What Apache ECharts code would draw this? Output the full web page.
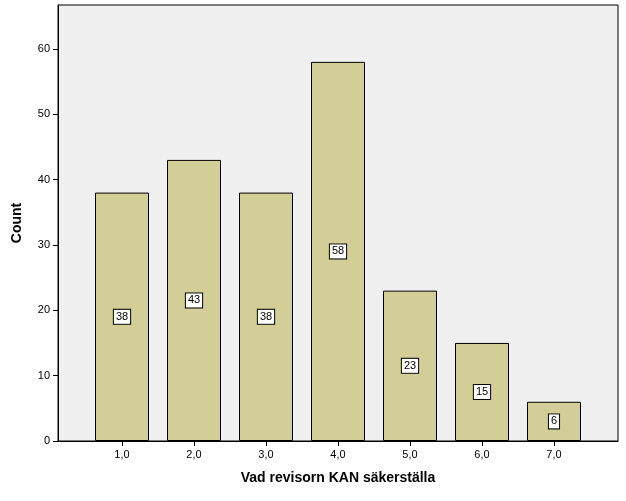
<!DOCTYPE html>
<html><head><meta charset="utf-8">
<script src="https://cdn.jsdelivr.net/npm/echarts@6/dist/echarts.min.js"></script>
<style>html,body{margin:0;background:#fff}#c{width:626px;height:501px}</style>
</head><body><div id="c"></div>
<script>
const categories = [1,2,3,4,5,6,7];
const counts = [38,43,38,58,23,15,6];
const yTicks = [0,10,20,30,40,50,60];
const chart = echarts.init(document.getElementById('c'));
chart.setOption({
  animation:false,
  grid:{left:58,right:8,top:5,bottom:60,show:true,backgroundColor:'#F0F0F0',borderColor:'#000',borderWidth:1},
  xAxis:{type:'value',min:0.111,max:7.889,
    name:'Vad revisorn KAN säkerställa',nameLocation:'middle',nameGap:30,
    nameTextStyle:{fontFamily:'Arial, Liberation Sans',fontWeight:'bold',fontSize:14,color:'#000'},
    axisLine:{show:true,lineStyle:{color:'#000'}},
    axisTick:{show:true,customValues:categories,lineStyle:{color:'#000'},length:5},
    axisLabel:{customValues:categories,formatter:v=>v.toFixed(1).replace('.',','),color:'#000',fontFamily:'Arial, Liberation Sans',fontSize:11},
    splitLine:{show:false}},
  yAxis:{type:'value',min:0,max:66.7,
    name:'Count',nameLocation:'middle',nameGap:34,
    nameTextStyle:{fontFamily:'Arial, Liberation Sans',fontWeight:'bold',fontSize:14,color:'#000'},
    axisLine:{show:true,lineStyle:{color:'#000'}},
    axisTick:{show:true,customValues:yTicks,lineStyle:{color:'#000'},length:5},
    axisLabel:{customValues:yTicks,color:'#000',fontFamily:'Arial, Liberation Sans',fontSize:11},
    splitLine:{show:false}},
  series:[{type:'bar',barWidth:54,
    data:categories.map((c,i)=>[c,counts[i]]),
    itemStyle:{color:'#D3CE98',borderColor:'#000',borderWidth:1},
    label:{show:true,position:'inside',formatter:p=>p.value[1],color:'#000',fontFamily:'Arial, Liberation Sans',fontSize:11,
      backgroundColor:'#fff',borderColor:'#000',borderWidth:1,padding:[2,2,1,2]}}]
});
</script></body></html>
